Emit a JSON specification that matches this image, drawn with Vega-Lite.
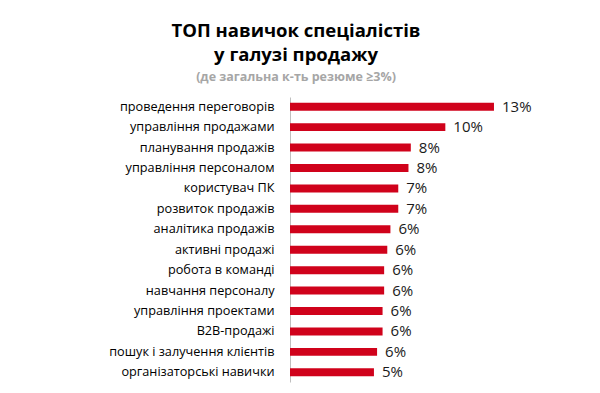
{
  "$schema": "https://vega.github.io/schema/vega-lite/v6.json",
  "width": 300,
  "height": 285,
  "autosize": {"type": "none"},
  "padding": {"left": 290, "top": 97, "right": 10, "bottom": 11},
  "background": "white",
  "title": {
    "text": ["ТОП навичок спеціалістів", "у галузі продажу"],
    "subtitle": "(де загальна  к-ть резюме ≥3%)",
    "anchor": "middle",
    "frame": "group",
    "dx": -144,
    "offset": 14,
    "font": "Open Sans",
    "fontSize": 18.5,
    "fontWeight": "bold",
    "color": "#000000",
    "lineHeight": 24,
    "subtitleFont": "Open Sans",
    "subtitleFontSize": 12.5,
    "subtitleFontWeight": "bold",
    "subtitleColor": "#a6a6a6",
    "subtitlePadding": 6
  },
  "data": {
    "values": [
      {"skill": "проведення переговорів", "share": 0.130},
      {"skill": "управління продажами", "share": 0.099},
      {"skill": "планування продажів", "share": 0.077},
      {"skill": "управління персоналом", "share": 0.0755},
      {"skill": "користувач ПК", "share": 0.069},
      {"skill": "розвиток продажів", "share": 0.069},
      {"skill": "аналітика продажів", "share": 0.064},
      {"skill": "активні продажі", "share": 0.062},
      {"skill": "робота в команді", "share": 0.060},
      {"skill": "навчання персоналу", "share": 0.060},
      {"skill": "управління проектами", "share": 0.059},
      {"skill": "B2B-продажі", "share": 0.059},
      {"skill": "пошук і залучення клієнтів", "share": 0.0555},
      {"skill": "організаторські навички", "share": 0.0535}
    ]
  },
  "encoding": {
    "y": {
      "field": "skill",
      "type": "nominal",
      "sort": null,
      "scale": {"paddingInner": 0.61, "paddingOuter": 0.28},
      "axis": {
        "title": null,
        "ticks": false,
        "domainColor": "#bfbfbf",
        "labelPadding": 16,
        "labelFont": "Open Sans",
        "labelFontSize": 12.7,
        "labelColor": "#000000",
        "labelLimit": 300
      }
    },
    "x": {
      "field": "share",
      "type": "quantitative",
      "scale": {"domain": [0, 0.1912], "nice": false},
      "axis": null
    }
  },
  "layer": [
    {"mark": {"type": "bar", "color": "#d0021b"}},
    {
      "mark": {"type": "text", "align": "left", "baseline": "middle", "dx": 8, "font": "Open Sans", "fontSize": 15, "color": "#1a1a1a"},
      "encoding": {"text": {"field": "share", "type": "quantitative", "format": ".0%"}}
    }
  ],
  "config": {"view": {"stroke": null}}
}
